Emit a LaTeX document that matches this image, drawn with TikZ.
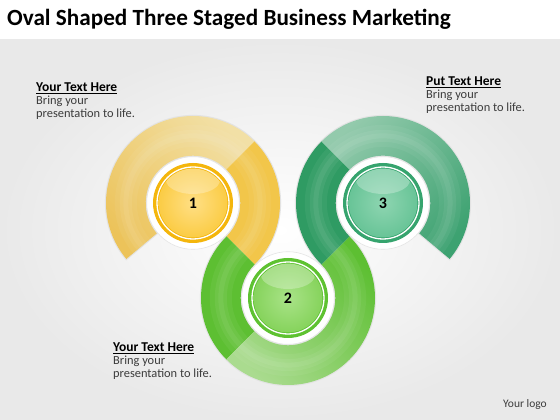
\documentclass[tikz,border=0pt]{standalone}
\usepackage{fontspec}
\setmainfont{Carlito}
\usepackage{tikz}
\usetikzlibrary{calc}
\definecolor{fond_gris}{HTML}{E9E9E9}
\definecolor{jaune_sature}{HTML}{F2C64A}
\definecolor{jaune_moyen}{HTML}{ECC35A}
\definecolor{jaune_pale}{HTML}{F2E0A6}
\definecolor{jaune_bouton}{HTML}{F4B60C}
\definecolor{jaune_int}{HTML}{FBCC45}
\definecolor{jaune_clair}{HTML}{FFDF85}
\definecolor{vert_sature}{HTML}{5DBF32}
\definecolor{vert_pale}{HTML}{AADB8F}
\definecolor{vert_bouton}{HTML}{5EC231}
\definecolor{vert_int}{HTML}{86D35C}
\definecolor{vert_clair}{HTML}{A9E388}
\definecolor{vertf_sature}{HTML}{2F9B63}
\definecolor{vertf_moyen}{HTML}{3DA271}
\definecolor{vertf_pale}{HTML}{93CAAC}
\definecolor{vertf_bouton}{HTML}{36A46E}
\definecolor{vertf_int}{HTML}{68C497}
\definecolor{vertf_clair}{HTML}{8ED5B1}
\definecolor{texte_gris}{HTML}{3C3C3C}
% Rayons des anneaux
\newcommand{\rint}{47.3}
\newcommand{\rext}{87}
\newcommand{\rmil}{67.15}
% Secteur d'anneau : centre, angle début, angle fin, rayon intérieur, rayon extérieur
\newcommand{\secteur}[5]{([shift={(#2:#5)}]#1) arc[start angle=#2, end angle=#3, radius=#5] -- ([shift={(#3:#4)}]#1) arc[start angle=#3, end angle=#2, radius=#4] -- cycle}
\newcommand{\entete}[1]{{\color{black}\fontsize{13.5}{12.6}\selectfont\bfseries\underline{#1}}}
\begin{document}
\begin{tikzpicture}[x=1pt,y=1pt,
    contour/.style={draw=gray!22, line width=2.2pt},
    numero/.style={font=\fontsize{16}{16}\selectfont\bfseries, text=black},
    texte/.style={align=left, inner sep=0pt, text=texte_gris, font=\fontsize{12.4}{12.6}\selectfont}]

        % Fond de la diapositive
        \useasboundingbox (0,0) rectangle (560,420);
        \fill[white] (0,0) rectangle (560,420);
        \shade[inner color=white, outer color=fond_gris] (0,0) rectangle (560,380);

        % Titre
        \node[anchor=base west, inner sep=0pt, font=\fontsize{23.2}{27}\selectfont\bfseries] (titre) at (7,394) {Oval Shaped Three Staged Business Marketing};

        % Définir les centres des trois anneaux
        \coordinate (C1) at (193,217);
        \coordinate (C2) at (288,122);
        \coordinate (C3) at (383,217);

        % Contours clairs des anneaux
        \draw[contour] \secteur{C1}{220}{-45}{\rint}{\rext};
        \draw[contour] \secteur{C2}{135}{405}{\rint}{\rext};
        \draw[contour] \secteur{C3}{225}{-40}{\rint}{\rext};

        % Anneau 1 (jaune)
        \shade[top color=jaune_pale, bottom color=jaune_moyen, shading angle=-45] \secteur{C1}{220}{45}{\rint}{\rext};
        \fill[jaune_sature] \secteur{C1}{45}{-45}{\rint}{\rext};

        % Anneau 2 (vert clair)
        \fill[vert_sature] \secteur{C2}{135}{225}{\rint}{\rext};
        \shade[top color=vert_pale, bottom color=vert_sature, shading angle=135] \secteur{C2}{225}{405}{\rint}{\rext};

        % Anneau 3 (vert foncé)
        \fill[vertf_sature] \secteur{C3}{225}{135}{\rint}{\rext};
        \shade[top color=vertf_pale, bottom color=vertf_moyen, shading angle=45] \secteur{C3}{135}{-40}{\rint}{\rext};

        % Reflet au milieu des anneaux
        \foreach \largeur/\opac in {22/.05, 12/.06, 5/.06}
            \draw[white, opacity=\opac, line width=\largeur pt] ([shift={(220:\rmil)}]C1) arc[start angle=220, end angle=-45, radius=\rmil]
                arc[start angle=135, end angle=405, radius=\rmil] arc[start angle=225, end angle=-40, radius=\rmil];

        % Trous blancs autour des boutons
        \foreach \c in {C1,C2,C3}
            \filldraw[fill=white, draw=gray!20, line width=.6pt] (\c) circle (46.3);

        % Boutons centraux
        \foreach \c/\bord/\interieur/\clair in {C1/jaune_bouton/jaune_int/jaune_clair, C2/vert_bouton/vert_int/vert_clair, C3/vertf_bouton/vertf_int/vertf_clair} {
            \fill[\bord] (\c) circle (40);
            \draw[white, line width=1.3pt] (\c) circle (36);
            \shade[inner color=\clair, outer color=\interieur] (\c) circle (34.4);
            \begin{scope}
                \clip (\c) circle (34.4);
                \fill[white, opacity=.28] ($(\c)+(0,23)$) ellipse (27 and 14);
            \end{scope}
        }

        % Numéros
        \node[numero] (n1) at (C1) {1};
        \node[numero] (n2) at (C2) {2};
        \node[numero] (n3) at (C3) {3};

        % Textes
        \node[texte, anchor=north west] (bloc1) at (36,337) {\entete{Your Text Here}\\Bring your\\presentation to life.};
        \node[texte, anchor=north west] (bloc3) at (426,343) {\entete{Put Text Here}\\Bring your\\presentation to life.};
        \node[texte, anchor=north west] (bloc2) at (113,77) {\entete{Your Text Here}\\Bring your\\presentation to life.};
        \node[anchor=base west, inner sep=0pt, text=texte_gris, font=\fontsize{11.5}{13}\selectfont] (logo) at (503,12) {Your logo};
    \end{tikzpicture}
\end{document}
